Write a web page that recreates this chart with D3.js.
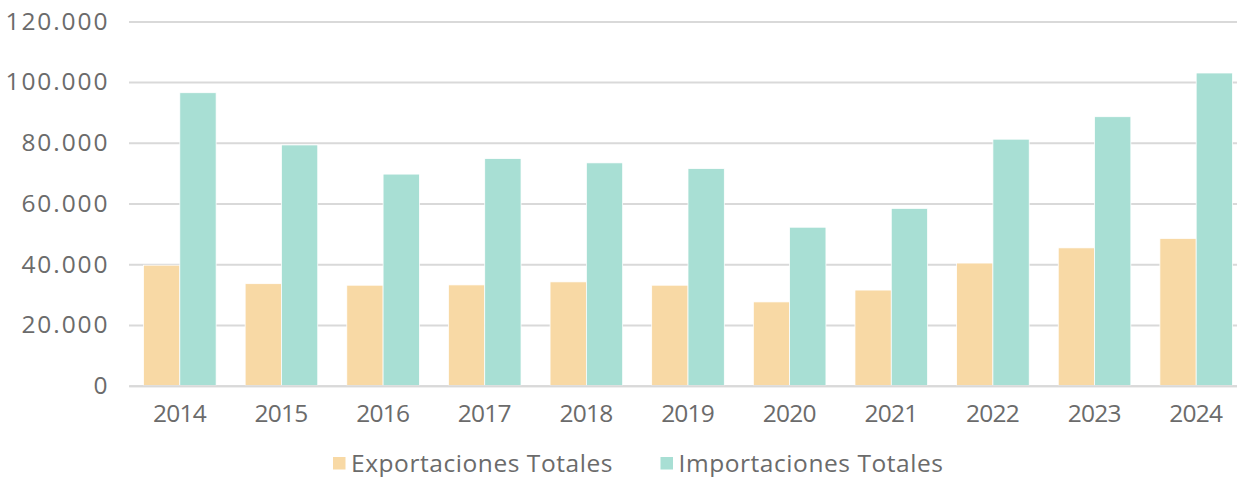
<!DOCTYPE html>
<html>
<head>
<meta charset="utf-8">
<script src="https://cdn.jsdelivr.net/npm/d3@7"></script>
<style>
  body { margin: 0; background: #fff; }
  svg text { font-family: "Open Sans", sans-serif; fill: #6b6b6b; }
</style>
</head>
<body>
<svg width="1237" height="477"></svg>
<script>

// Datos (miles)
let anios = ['2014', '2015', '2016', '2017', '2018', '2019', '2020', '2021', '2022', '2023', '2024']
let exportaciones = [39700, 33600, 33100, 33200, 34200, 33100, 27600, 31500, 40400, 45400, 48500]
let importaciones = [96500, 79300, 69700, 74800, 73400, 71500, 52200, 58400, 81200, 88600, 103000]
let series = ['Exportaciones Totales', 'Importaciones Totales']
let colores = ['#f8d9a5', '#a8dfd4']
let ticks_y = [0, 20000, 40000, 60000, 80000, 100000, 120000]


let svg = d3.select('svg')
let tam_fuente = 24.5

let x = d3.scaleBand()
  .domain(anios)
  .range([129, 1247])

let xs = d3.scaleBand()
  .domain(series)
  .range([0, x.bandwidth()])
  .paddingOuter(0.4)

let y = d3.scaleLinear()
  .domain([0, 120000])
  .range([385.7, 21.4])

let fmt = d => d3.format(',')(d).replaceAll(',', '.')

// ajusta el espaciado de letras para acercarse al ancho de la fuente original
let espaciar = (textos, muestra, ancho) => {
  let nodo = textos.filter(function () { return this.textContent == muestra }).node()
  if (!nodo) return 0
  let ls = (ancho - nodo.getComputedTextLength()) / muestra.length
  textos.style('letter-spacing', ls + 'px')
  return ls
}

// Rejilla
let eje_y = svg.append('g')
  .attr('transform', 'translate(129,0)')
  .call(d3.axisLeft(y).tickValues(ticks_y).tickSize(-1118).tickPadding(21.5).tickFormat(fmt))

eje_y.select('.domain').remove()
eje_y.selectAll('.tick line').attr('stroke', '#d9d9d9').attr('stroke-width', 2)
let txt_y = eje_y.selectAll('.tick text')
  .attr('font-size', tam_fuente)
  .attr('font-family', '"Open Sans", sans-serif')
  .attr('fill', '#6b6b6b')
let ls_y = espaciar(txt_y, '80.000', 88)
txt_y.attr('dx', ls_y)

// Barras
let datos = anios.map((a, i) => ({anio: a, valores: [exportaciones[i], importaciones[i]]}))

let grupos = svg.append('g').selectAll('g.grupo')
  .data(datos).enter()
  .append('g')
    .attr('class', 'grupo')
    .attr('transform', d => `translate(${x(d.anio)},0)`)

grupos.selectAll('rect')
  .data(d => d.valores.map((v, j) => ({serie: series[j], v: v, c: colores[j]})))
  .enter().append('rect')
    .attr('x', d => xs(d.serie))
    .attr('width', xs.bandwidth())
    .attr('y', d => y(d.v))
    .attr('height', d => y(0) - y(d.v))
    .attr('fill', d => d.c)
    .attr('stroke', '#ffffff')
    .attr('stroke-width', 0.75)

// Eje x
let eje_x = svg.append('g')
  .attr('transform', `translate(0,${y(0)})`)
  .call(d3.axisBottom(x).tickSize(0))

eje_x.select('.domain').attr('stroke', '#d9d9d9').attr('stroke-width', 2)
let txt_x = eje_x.selectAll('.tick text')
  .attr('font-size', tam_fuente)
  .attr('font-family', '"Open Sans", sans-serif')
  .attr('fill', '#6b6b6b')
  .attr('y', 36.6)
  .attr('dy', null)
let ls_x = espaciar(txt_x, '2014', 53)
txt_x.attr('dx', ls_x / 2)

// Leyenda
let leyenda = svg.append('g')
let pos_leyenda = [333, 660.5]

series.forEach((s, i) => {
  let g = leyenda.append('g').attr('transform', `translate(${pos_leyenda[i]},0)`)
  g.append('rect')
    .attr('x', 0).attr('y', 457)
    .attr('width', 12.5).attr('height', 12.5)
    .attr('fill', colores[i])
  g.append('text')
    .attr('x', 18)
    .attr('y', 471.5)
    .attr('font-size', tam_fuente)
    .text(s)
})
espaciar(leyenda.selectAll('text'), 'Exportaciones Totales', 262)

</script>
</body>
</html>
